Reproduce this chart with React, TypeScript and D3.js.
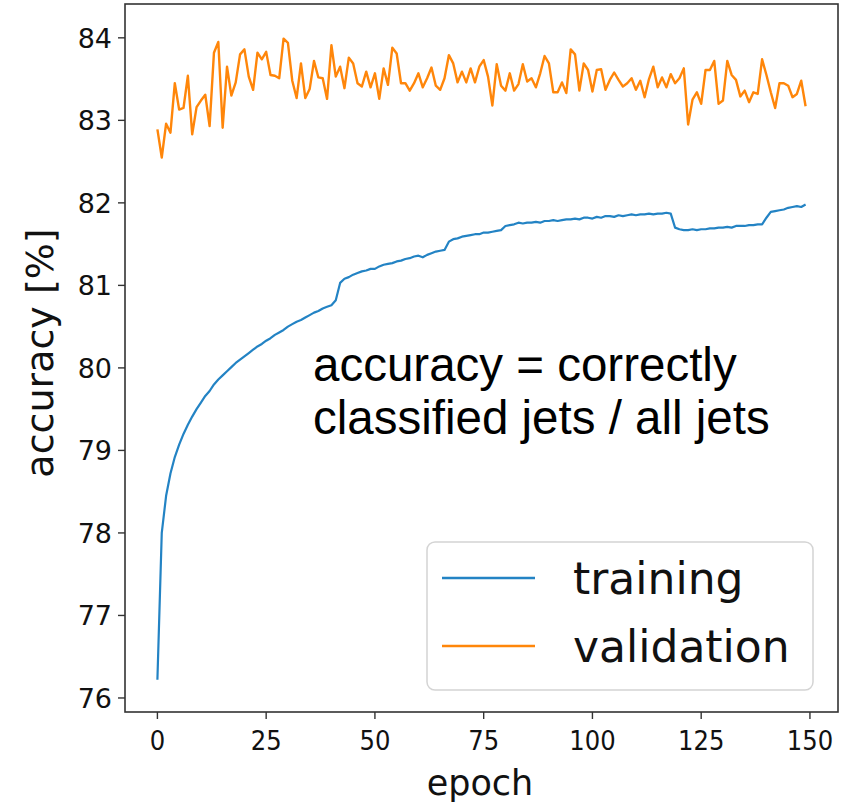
import React from "react";
import * as d3 from "d3";

// Per-epoch accuracy (%) for 150 epochs
const trainingAcc: number[] = [
  76.22, 78.0, 78.45, 78.72, 78.92, 79.07, 79.2, 79.31, 79.41, 79.5,
  79.58, 79.66, 79.72, 79.8, 79.86, 79.91, 79.96, 80.01, 80.06, 80.1,
  80.14, 80.18, 80.22, 80.26, 80.29, 80.33, 80.36, 80.4, 80.43, 80.46,
  80.5, 80.53, 80.56, 80.58, 80.61, 80.64, 80.67, 80.69, 80.72, 80.74,
  80.76, 80.82, 81.03, 81.08, 81.1, 81.13, 81.15, 81.17, 81.18, 81.2,
  81.2, 81.23, 81.25, 81.26, 81.27, 81.29, 81.3, 81.32, 81.33, 81.35,
  81.36, 81.34, 81.37, 81.39, 81.41, 81.42, 81.43, 81.53, 81.56, 81.57,
  81.59, 81.6, 81.61, 81.62, 81.62, 81.64, 81.64, 81.65, 81.66, 81.67,
  81.72, 81.73, 81.74, 81.76, 81.75, 81.76, 81.76, 81.77, 81.76, 81.78,
  81.78, 81.79, 81.78, 81.79, 81.8, 81.8, 81.81, 81.8, 81.82, 81.82,
  81.81, 81.83, 81.82, 81.84, 81.84, 81.83, 81.85, 81.84, 81.85, 81.86,
  81.85, 81.86, 81.86, 81.87, 81.86, 81.87, 81.87, 81.88, 81.87, 81.7,
  81.68, 81.67, 81.67, 81.68, 81.67, 81.68, 81.68, 81.69, 81.69, 81.7,
  81.7, 81.71, 81.7, 81.72, 81.72, 81.72, 81.73, 81.73, 81.74, 81.74,
  81.82, 81.89, 81.9, 81.91, 81.92, 81.94, 81.95, 81.96, 81.95, 81.98,
];

const validationAcc: number[] = [
  82.89, 82.55, 82.96, 82.85, 83.45, 83.13, 83.15, 83.54, 82.83, 83.16,
  83.24, 83.31, 82.93, 83.82, 83.95, 82.91, 83.65, 83.3, 83.46, 83.8,
  83.86, 83.53, 83.37, 83.82, 83.74, 83.83, 83.55, 83.54, 83.51, 83.99,
  83.94, 83.48, 83.27, 83.69, 83.27, 83.38, 83.72, 83.52, 83.51, 83.26,
  83.91, 83.53, 83.65, 83.39, 83.76, 83.69, 83.45, 83.41, 83.59, 83.4,
  83.57, 83.26, 83.63, 83.43, 83.88, 83.81, 83.45, 83.45, 83.36, 83.45,
  83.57, 83.4, 83.51, 83.64, 83.42, 83.37, 83.51, 83.79, 83.69, 83.46,
  83.59, 83.46, 83.63, 83.46, 83.65, 83.73, 83.53, 83.18, 83.68, 83.42,
  83.36, 83.57, 83.36, 83.44, 83.68, 83.47, 83.51, 83.4, 83.57, 83.78,
  83.69, 83.34, 83.34, 83.46, 83.33, 83.86, 83.8, 83.36, 83.69, 83.61,
  83.35, 83.61, 83.62, 83.37, 83.49, 83.58, 83.49, 83.41, 83.45, 83.51,
  83.37, 83.48, 83.28, 83.5, 83.65, 83.4, 83.52, 83.4, 83.56, 83.45,
  83.51, 83.63, 82.95, 83.25, 83.34, 83.2, 83.61, 83.61, 83.72, 83.2,
  83.24, 83.72, 83.55, 83.49, 83.29, 83.36, 83.22, 83.34, 83.32, 83.74,
  83.55, 83.34, 83.15, 83.45, 83.45, 83.42, 83.28, 83.32, 83.48, 83.17,
];

const xTicks: number[] = [0, 25, 50, 75, 100, 125, 150];
const yTicks: number[] = [76, 77, 78, 79, 80, 81, 82, 83, 84];
const seriesNames: string[] = ["training", "validation"];
const seriesColors: string[] = ["#2383c4", "#ff860a"];

const W = 850;
const H = 808;
const left = 125;
const right = 838;
const top = 4;
const bottom = 712;

export default function App() {
  const x = d3.scaleLinear().domain([-7.45, 156.45]).range([left, right]);
  const y = d3.scaleLinear().domain([75.83, 84.41]).range([bottom, top]);

  const line = d3
    .line<number>()
    .x((_, i) => x(i))
    .y((d) => y(d));

  const series = [trainingAcc, validationAcc];
  const tickFont = "DejaVu Sans, sans-serif";

  return (
    <svg
      width={W}
      height={H}
      style={{ position: "absolute", left: 0, top: 0, background: "#fff" }}
    >
      <rect x={0} y={0} width={W} height={H} fill="#fff" />
      {series.map((s, k) => (
        <path
          key={seriesNames[k]}
          d={line(s) ?? ""}
          fill="none"
          stroke={seriesColors[k]}
          strokeWidth={k === 0 ? 2.2 : 2.4}
          strokeLinejoin="round"
        />
      ))}

      {/* frame */}
      <rect
        x={left}
        y={top}
        width={right - left}
        height={bottom - top}
        fill="none"
        stroke="#333"
        strokeWidth={1.6}
      />

      {/* x axis */}
      {xTicks.map((t) => (
        <g key={`x${t}`} transform={`translate(${x(t)},${bottom})`}>
          <line y1={0} y2={7} stroke="#333" strokeWidth={1.4} />
          <text
            y={38}
            textAnchor="middle"
            fontFamily={tickFont}
            fontSize={27}
            fill="#111"
            transform="scale(0.9,1)"
          >
            {t}
          </text>
        </g>
      ))}
      <text
        x={480}
        y={795}
        textAnchor="middle"
        fontFamily={tickFont}
        fontSize={35}
        fill="#111"
      >
        epoch
      </text>

      {/* y axis */}
      {yTicks.map((t) => (
        <g key={`y${t}`} transform={`translate(${left},${y(t)})`}>
          <line x1={-7} x2={0} stroke="#333" strokeWidth={1.4} />
          <text
            x={-13}
            dy="0.36em"
            textAnchor="end"
            fontFamily={tickFont}
            fontSize={27}
            fill="#111"
          >
            {t}
          </text>
        </g>
      ))}
      <text
        transform={`translate(53,353) rotate(-90)`}
        textAnchor="middle"
        fontFamily={tickFont}
        fontSize={38}
        fill="#111"
      >
        accuracy [%]
      </text>

      {/* annotation */}
      <text
        x={313}
        y={381}
        fontFamily="Liberation Sans, Arial, sans-serif"
        fontSize={47.5}
        fill="#000"
      >
        accuracy = correctly
      </text>
      <text
        x={313}
        y={434}
        fontFamily="Liberation Sans, Arial, sans-serif"
        fontSize={47.5}
        fill="#000"
      >
        classified jets / all jets
      </text>

      {/* legend */}
      <rect
        x={427}
        y={542}
        width={386}
        height={148}
        rx={8}
        fill="#fff"
        fillOpacity={0.8}
        stroke="#d4d4d4"
        strokeWidth={1.5}
      />
      {seriesNames.map((name, k) => (
        <g key={name} transform={`translate(0,${578 + k * 68})`}>
          <line x1={442} x2={535} stroke={seriesColors[k]} strokeWidth={2.4} />
          <text
            x={573}
            y={16}
            fontFamily={tickFont}
            fontSize={44}
            fill="#111"
          >
            {name}
          </text>
        </g>
      ))}
    </svg>
  );
}
